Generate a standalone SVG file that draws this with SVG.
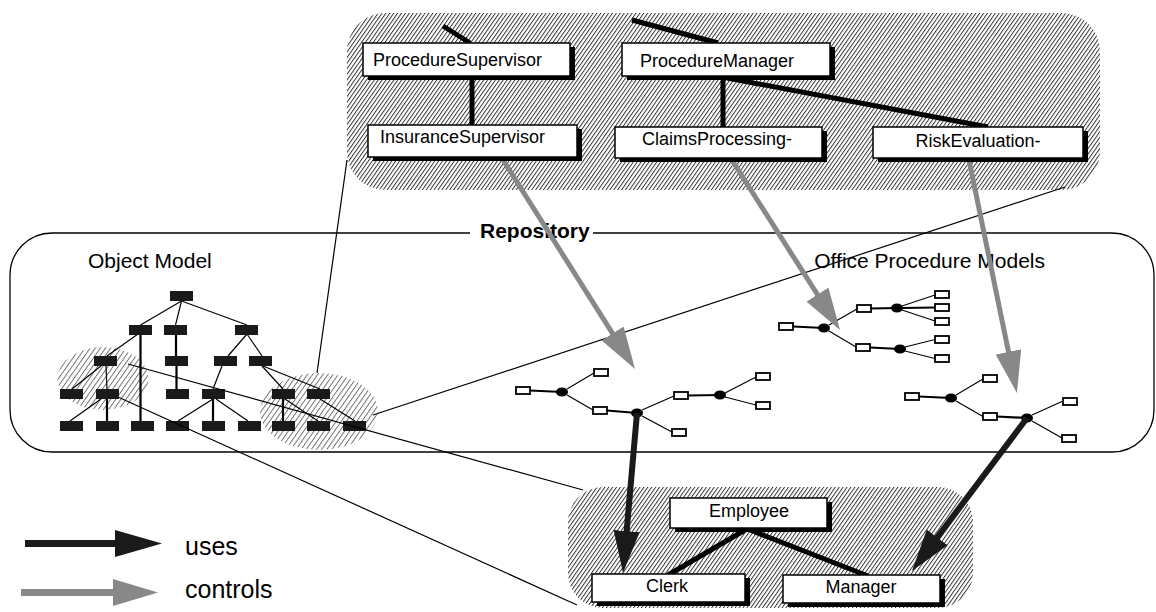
<svg xmlns="http://www.w3.org/2000/svg" width="1156" height="612" viewBox="0 0 1156 612">
<defs>
<pattern id="hatch" patternUnits="userSpaceOnUse" width="3.2" height="8" patternTransform="rotate(35)">
<line x1="0.5" y1="0" x2="0.5" y2="8" stroke="#222" stroke-width="0.9"/>
</pattern>
<pattern id="hatch2" patternUnits="userSpaceOnUse" width="4.2" height="8" patternTransform="rotate(35)">
<line x1="0.5" y1="0" x2="0.5" y2="8" stroke="#444" stroke-width="0.8"/>
</pattern>
<marker id="hg" markerUnits="userSpaceOnUse" markerWidth="42" markerHeight="26" viewBox="0 0 42 26" refX="12" refY="13" orient="auto">
<path d="M0,0 L42,13 L0,26 Z" fill="#888"/>
</marker>
<marker id="hb" markerUnits="userSpaceOnUse" markerWidth="42" markerHeight="26" viewBox="0 0 42 26" refX="12" refY="13" orient="auto">
<path d="M0,0 L42,13 L0,26 Z" fill="#1a1a1a"/>
</marker>
</defs>
<style>
.box{fill:#fff;stroke:#000;stroke-width:1.5}
.sh{fill:#000}
.lbl{font-family:"Liberation Sans",Arial,Helvetica,sans-serif;font-size:18px;fill:#000}
.big{font-family:"Liberation Sans",Arial,Helvetica,sans-serif;font-size:21px;fill:#000}
.om{fill:#1a1a1a}
.tb{fill:#fff;stroke:#000;stroke-width:1.8}
.dot{fill:#000}
.thin{stroke:#000;stroke-width:1.2;fill:none}
.tk{stroke:#000;stroke-width:2.2;fill:none}
.con{stroke:#000;stroke-width:5;fill:none}
.ctl{stroke:#888;stroke-width:5;fill:none}
.use{stroke:#1a1a1a;stroke-width:6;fill:none}
</style>
<rect width="1156" height="612" fill="#fff"/>

<!-- hatched regions -->
<g id="regions">
<rect x="347" y="13" width="753" height="177" rx="38" fill="url(#hatch)"/>
<rect x="568" y="487" width="405" height="121" rx="35" fill="url(#hatch)"/>
<ellipse cx="103" cy="378.5" rx="45.5" ry="31.5" fill="url(#hatch2)"/>
<ellipse cx="319" cy="411.5" rx="59" ry="38.5" fill="url(#hatch2)"/>
</g>

<!-- repository -->
<g id="repository">
<rect x="10" y="233" width="1144" height="219" rx="42" fill="none" stroke="#000" stroke-width="1.3"/>
<rect x="470" y="226" width="123" height="14" fill="#fff"/>
<text x="480" y="238" class="big" font-weight="bold">Repository</text>
<text x="88" y="268" class="big">Object Model</text>
<text x="1045" y="268" class="big" text-anchor="end">Office Procedure Models</text>
</g>

<!-- object model tree -->
<g id="object-model">
<g class="thin">
<line x1="181.5" y1="301" x2="140.5" y2="325"/>
<line x1="181.5" y1="301" x2="175.5" y2="325"/>
<line x1="181.5" y1="301" x2="247" y2="325"/>
<line x1="138" y1="334" x2="107" y2="356"/>
<line x1="247" y1="334" x2="228" y2="356"/>
<line x1="247" y1="334" x2="262" y2="356"/>
<line x1="101" y1="366" x2="72" y2="389"/>
<line x1="106" y1="366" x2="107" y2="389"/>
<line x1="222" y1="366" x2="213" y2="389"/>
<line x1="262" y1="366" x2="283" y2="389"/>
<line x1="263" y1="366" x2="320" y2="389"/>
<line x1="101" y1="399" x2="70" y2="421"/>
<line x1="213" y1="399" x2="178" y2="421"/>
<line x1="216" y1="399" x2="248" y2="421"/>
<line x1="285" y1="399" x2="318" y2="421"/>
<line x1="320" y1="399" x2="355" y2="421"/>
</g>
<g class="tk">
<line x1="140.5" y1="334" x2="140.5" y2="421"/>
<line x1="176" y1="334" x2="176" y2="356"/>
<line x1="176.5" y1="366" x2="176.5" y2="389"/>
<line x1="107" y1="399" x2="107" y2="421"/>
<line x1="213" y1="399" x2="213" y2="421"/>
<line x1="283" y1="399" x2="283" y2="421"/>
</g>
<rect class="om" x="170" y="291" width="23" height="10"/>
<rect class="om" x="129" y="325" width="23" height="10"/>
<rect class="om" x="164" y="325" width="23" height="10"/>
<rect class="om" x="235" y="325" width="23" height="10"/>
<rect class="om" x="94" y="356" width="23" height="10"/>
<rect class="om" x="165" y="356" width="23" height="10"/>
<rect class="om" x="214" y="356" width="23" height="10"/>
<rect class="om" x="249" y="356" width="23" height="10"/>
<rect class="om" x="60" y="389" width="23" height="10"/>
<rect class="om" x="96" y="389" width="23" height="10"/>
<rect class="om" x="166" y="389" width="23" height="10"/>
<rect class="om" x="202" y="389" width="23" height="10"/>
<rect class="om" x="272" y="389" width="23" height="10"/>
<rect class="om" x="307" y="389" width="23" height="10"/>
<rect class="om" x="60" y="421" width="23" height="10"/>
<rect class="om" x="96" y="421" width="23" height="10"/>
<rect class="om" x="131" y="421" width="23" height="10"/>
<rect class="om" x="166" y="421" width="23" height="10"/>
<rect class="om" x="202" y="421" width="23" height="10"/>
<rect class="om" x="238" y="421" width="23" height="10"/>
<rect class="om" x="272" y="421" width="23" height="10"/>
<rect class="om" x="307" y="421" width="23" height="10"/>
<rect class="om" x="343" y="421" width="23" height="10"/>
</g>

<!-- procedure model trees -->
<g id="proc-tree-1">
<g class="tk">
<line x1="530" y1="390.5" x2="562" y2="392"/>
<line x1="607" y1="410.5" x2="637" y2="413"/>
<line x1="688" y1="395.5" x2="720" y2="395"/>
</g>
<g class="thin">
<line x1="567" y1="389" x2="594" y2="373"/>
<line x1="567" y1="395" x2="593" y2="410"/>
<line x1="642" y1="410" x2="674" y2="396"/>
<line x1="642" y1="416" x2="672" y2="432"/>
<line x1="725" y1="393" x2="756" y2="377"/>
<line x1="725" y1="397" x2="756" y2="405"/>
</g>
<ellipse class="dot" cx="562" cy="392" rx="6" ry="4.5"/>
<ellipse class="dot" cx="637" cy="413" rx="6" ry="4.5"/>
<ellipse class="dot" cx="720" cy="395" rx="6" ry="4.5"/>
<rect class="tb" x="516" y="387" width="14" height="7"/>
<rect class="tb" x="594" y="369" width="14" height="7"/>
<rect class="tb" x="593" y="407" width="14" height="7"/>
<rect class="tb" x="674" y="392" width="14" height="7"/>
<rect class="tb" x="672" y="429" width="14" height="7"/>
<rect class="tb" x="756" y="373" width="14" height="7"/>
<rect class="tb" x="756" y="402" width="14" height="7"/>
</g>

<g id="proc-tree-2">
<g class="tk">
<line x1="793" y1="326.5" x2="824" y2="328"/>
<line x1="871" y1="308.5" x2="897" y2="308"/>
<line x1="870" y1="347.5" x2="900" y2="349"/>
<line x1="902" y1="308" x2="935" y2="307.5"/>
</g>
<g class="thin">
<line x1="829" y1="325" x2="857" y2="309"/>
<line x1="829" y1="331" x2="856" y2="347"/>
<line x1="902" y1="306" x2="935" y2="295"/>
<line x1="902" y1="310" x2="935" y2="321"/>
<line x1="905" y1="347" x2="935" y2="339.5"/>
<line x1="905" y1="351" x2="935" y2="358.5"/>
</g>
<ellipse class="dot" cx="824" cy="328" rx="6" ry="4.5"/>
<ellipse class="dot" cx="897" cy="308" rx="6" ry="4.5"/>
<ellipse class="dot" cx="900" cy="349" rx="6" ry="4.5"/>
<rect class="tb" x="779" y="323" width="14" height="7"/>
<rect class="tb" x="857" y="305" width="14" height="7"/>
<rect class="tb" x="856" y="344" width="14" height="7"/>
<rect class="tb" x="935" y="291" width="14" height="7"/>
<rect class="tb" x="935" y="304" width="14" height="7"/>
<rect class="tb" x="935" y="318" width="14" height="7"/>
<rect class="tb" x="935" y="336" width="14" height="7"/>
<rect class="tb" x="935" y="355" width="14" height="7"/>
</g>

<g id="proc-tree-3">
<g class="tk">
<line x1="919" y1="396.5" x2="951" y2="398"/>
<line x1="997" y1="416.5" x2="1027" y2="418"/>
</g>
<g class="thin">
<line x1="956" y1="395" x2="983" y2="379"/>
<line x1="956" y1="401" x2="983" y2="416.5"/>
<line x1="1032" y1="415" x2="1063" y2="401"/>
<line x1="1032" y1="421" x2="1062" y2="438"/>
</g>
<ellipse class="dot" cx="951" cy="398" rx="6" ry="4.5"/>
<ellipse class="dot" cx="1027" cy="418" rx="6" ry="4.5"/>
<rect class="tb" x="905" y="393" width="14" height="7"/>
<rect class="tb" x="983" y="375" width="14" height="7"/>
<rect class="tb" x="983" y="413" width="14" height="7"/>
<rect class="tb" x="1063" y="398" width="14" height="7"/>
<rect class="tb" x="1062" y="435" width="14" height="7"/>
</g>

<!-- connectors -->
<g id="connectors">
<line class="thin" x1="128" y1="364" x2="583" y2="490"/>
<line class="thin" x1="118" y1="397" x2="577" y2="605"/>
<line class="thin" x1="317" y1="373" x2="347" y2="160"/>
<line class="thin" x1="373" y1="415" x2="1065" y2="187"/>
<line class="con" x1="443" y1="26" x2="470" y2="43"/>
<line class="con" x1="632" y1="20" x2="718" y2="43"/>
<line class="con" x1="472" y1="76" x2="472" y2="125"/>
<line class="con" x1="723" y1="76" x2="723" y2="127"/>
<line class="con" x1="727" y1="78" x2="988" y2="127"/>
<line class="con" x1="745" y1="530" x2="668" y2="575"/>
<line class="con" x1="750" y1="530" x2="868" y2="576"/>
<line class="ctl" x1="503" y1="160" x2="619" y2="343.6" marker-end="url(#hg)"/>
<line class="ctl" x1="728" y1="154" x2="823.9" y2="304.7" marker-end="url(#hg)"/>
<line class="ctl" x1="969" y1="160" x2="1010.9" y2="363.6" marker-end="url(#hg)"/>
<line class="use" x1="637" y1="413" x2="625.6" y2="543.1" marker-end="url(#hb)"/>
<line class="use" x1="1027" y1="418" x2="930" y2="547" marker-end="url(#hb)"/>
</g>

<!-- labelled class nodes -->
<g id="ProcedureSupervisor">
<rect class="sh" x="368" y="47" width="207" height="33"/>
<rect class="box" x="363" y="43" width="207" height="33"/>
<text class="lbl" x="373" y="66">ProcedureSupervisor</text>
</g>
<g id="InsuranceSupervisor">
<rect class="sh" x="373" y="129" width="209" height="32"/>
<rect class="box" x="368" y="125" width="209" height="32"/>
<text class="lbl" x="380" y="143">InsuranceSupervisor</text>
</g>
<g id="ProcedureManager">
<rect class="sh" x="627" y="47" width="208" height="33"/>
<rect class="box" x="622" y="43" width="208" height="33"/>
<text class="lbl" x="640" y="67">ProcedureManager</text>
</g>
<g id="ClaimsProcessing">
<rect class="sh" x="620" y="131" width="207" height="31"/>
<rect class="box" x="615" y="127" width="207" height="31"/>
<text class="lbl" x="642" y="145">ClaimsProcessing-</text>
</g>
<g id="RiskEvaluation">
<rect class="sh" x="878" y="131" width="210" height="31"/>
<rect class="box" x="873" y="127" width="210" height="31"/>
<text class="lbl" x="978" y="147" text-anchor="middle">RiskEvaluation-</text>
</g>
<g id="Employee">
<rect class="sh" x="675" y="502" width="157" height="30"/>
<rect class="box" x="670" y="498" width="157" height="30"/>
<text class="lbl" x="749" y="517" text-anchor="middle">Employee</text>
</g>
<g id="Clerk">
<rect class="sh" x="597" y="578" width="153" height="28"/>
<rect class="box" x="592" y="574" width="153" height="28"/>
<text class="lbl" x="667" y="592" text-anchor="middle">Clerk</text>
</g>
<g id="Manager">
<rect class="sh" x="788" y="579" width="157" height="28"/>
<rect class="box" x="783" y="575" width="157" height="28"/>
<text class="lbl" x="861" y="593" text-anchor="middle">Manager</text>
</g>

<!-- legend -->
<g id="legend">
<line x1="25" y1="543.5" x2="117" y2="543.5" stroke="#1a1a1a" stroke-width="7"/>
<polygon points="115,530 162,543.5 115,557" fill="#1a1a1a"/>
<text x="185" y="555" font-family="Liberation Sans, Arial, sans-serif" font-size="25">uses</text>
<line x1="21" y1="592.5" x2="113" y2="592.5" stroke="#888" stroke-width="7"/>
<polygon points="113,579 158,592.5 113,606" fill="#888"/>
<text x="185" y="598" font-family="Liberation Sans, Arial, sans-serif" font-size="25">controls</text>
</g>
</svg>
